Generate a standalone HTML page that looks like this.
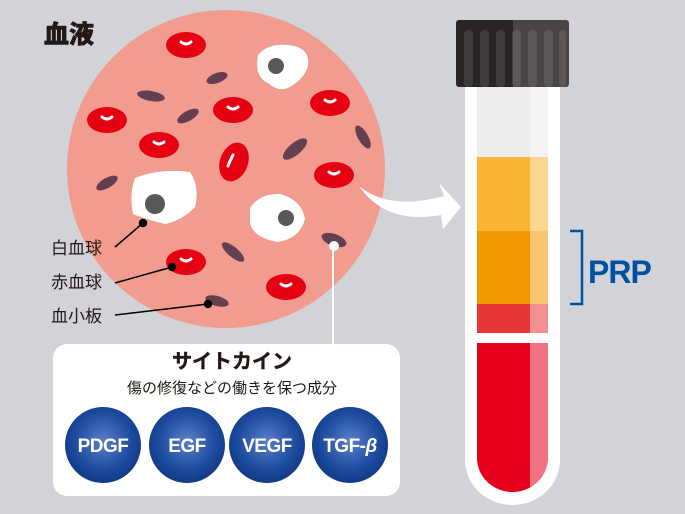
<!DOCTYPE html><html><head><meta charset="utf-8"><style>
body{margin:0;width:685px;height:514px;background:#d2d3d8;overflow:hidden;font-family:"Liberation Sans","Noto Sans CJK JP",sans-serif}
</style></head><body>
<svg width="685" height="514" viewBox="0 0 685 514" xmlns="http://www.w3.org/2000/svg" style="position:absolute;left:0;top:0">
<defs>
<radialGradient id="g" cx="0.5" cy="0.45" r="0.55"><stop offset="0" stop-color="#5a7fc8"/><stop offset="0.7" stop-color="#1c4a9e"/><stop offset="1" stop-color="#123a86"/></radialGradient>
</defs>
<text x="44" y="43" font-size="25" font-weight="900" fill="#231815" stroke="#231815" stroke-width="0.6" font-family="Liberation Sans,Noto Sans CJK JP,sans-serif">血液</text>
<circle cx="226" cy="169" r="159" fill="#f19c8e"/>
<g fill="#643f4f">
<ellipse cx="151" cy="96" rx="14" ry="5" transform="rotate(10 151 96)"/>
<ellipse cx="217" cy="78" rx="11" ry="5" transform="rotate(-20 217 78)"/>
<ellipse cx="188" cy="116" rx="12" ry="5" transform="rotate(-30 188 116)"/>
<ellipse cx="295" cy="149" rx="15" ry="6" transform="rotate(-40 295 149)"/>
<ellipse cx="363" cy="137" rx="13" ry="5" transform="rotate(60 363 137)"/>
<ellipse cx="107" cy="183" rx="12" ry="5" transform="rotate(-30 107 183)"/>
<ellipse cx="233" cy="252" rx="14" ry="5" transform="rotate(40 233 252)"/>
<ellipse cx="334" cy="240" rx="13" ry="6" transform="rotate(20 334 240)"/>
<ellipse cx="217" cy="301" rx="12" ry="5" transform="rotate(15 217 301)"/>
</g>
<g fill="#e50012">
<ellipse cx="186" cy="45" rx="20" ry="13"/>
<ellipse cx="330" cy="103" rx="20" ry="13"/>
<ellipse cx="233" cy="110" rx="20" ry="13"/>
<ellipse cx="107" cy="120" rx="20" ry="13"/>
<ellipse cx="159" cy="145" rx="20" ry="13"/>
<ellipse cx="234" cy="162" rx="20" ry="14" transform="rotate(-70 234 162)"/>
<ellipse cx="334" cy="175" rx="20" ry="13"/>
<ellipse cx="186" cy="262" rx="20" ry="13"/>
<ellipse cx="286" cy="287" rx="20" ry="13"/>
</g>
<g fill="none" stroke="#fff" stroke-width="3" stroke-linecap="round">
<path d="M181 42 q5 4 10 0"/><path d="M325 100 q5 4 10 0"/><path d="M228 107 q5 4 10 0"/><path d="M102 117 q5 4 10 0"/><path d="M154 142 q5 4 10 0"/><path d="M233 155 q-4 8 -5 11"/><path d="M329 172 q5 4 10 0"/><path d="M181 259 q5 4 10 0"/><path d="M281 284 q5 4 10 0"/>
</g>
<g fill="#fff">
<path d="M258 55 q10 -12 30 -10 q22 2 20 20 q-3 14 -20 23 q-10 4 -20 -5 q-14 -6 -10 -28z"/>
<path d="M135 178 q25 -10 55 -6 q10 15 5 35 q-12 13 -30 17 q-20 -5 -32 -10 q-4 -20 2 -36z"/>
<path d="M250 208 q10 -15 30 -14 q22 6 25 25 q-5 20 -28 23 q-25 -5 -27 -20z"/>
</g>
<g fill="#595757"><circle cx="276" cy="66" r="8"/><circle cx="155" cy="204" r="10"/><circle cx="286" cy="218" r="8"/></g>
<path d="M359 186 q30 25 85 10 l-5 -13 l22 24 l-18 22 l-2 -14 q-55 10 -82 -29z" fill="#fff"/>
<line x1="333" y1="245" x2="333" y2="346" stroke="#fff" stroke-width="2"/>
<circle cx="334" cy="246" r="5" fill="#fff"/>
<g stroke="#000" stroke-width="1.5" fill="#000">
<line x1="115" y1="247" x2="143" y2="223"/><circle cx="143" cy="223" r="3.5"/>
<line x1="115" y1="283" x2="172" y2="267"/><circle cx="172" cy="267" r="3.5"/>
<line x1="115" y1="315" x2="208" y2="304"/><circle cx="208" cy="304" r="3.5"/>
</g>
<g font-size="17" fill="#231815" font-family="Liberation Sans,Noto Sans CJK JP,sans-serif">
<text x="51" y="254">白血球</text><text x="51" y="288">赤血球</text><text x="51" y="322">血小板</text>
</g>
<rect x="53" y="344" width="347" height="152" rx="14" fill="#fff"/>
<text x="232" y="368" text-anchor="middle" font-size="20" font-weight="bold" fill="#231815" stroke="#231815" stroke-width="0.4" font-family="Liberation Sans,Noto Sans CJK JP,sans-serif">サイトカイン</text>
<text x="232" y="393" text-anchor="middle" font-size="15" fill="#231815" font-family="Liberation Sans,Noto Sans CJK JP,sans-serif">傷の修復などの働きを保つ成分</text>
<g fill="url(#g)"><circle cx="103" cy="445" r="38"/><circle cx="187" cy="445" r="38"/><circle cx="267" cy="445" r="38"/><circle cx="350" cy="445" r="38"/></g>
<g fill="#fff" font-size="19" font-weight="bold" text-anchor="middle" font-family="Liberation Sans,sans-serif" letter-spacing="-0.5">
<text x="103" y="452">PDGF</text><text x="187" y="452">EGF</text><text x="267" y="452">VEGF</text><text x="350" y="452">TGF-<tspan font-style="italic">β</tspan></text>
</g>
<path d="M465 85 V460 a47.5 45 0 0 0 95 0 V85z" fill="#fff"/>
<rect x="477" y="87" width="71" height="70" fill="#ececec"/>
<rect x="477" y="157" width="71" height="74" fill="#f7b533"/>
<rect x="477" y="231" width="71" height="73" fill="#f39800"/>
<rect x="477" y="304" width="71" height="29" fill="#e83636"/>
<path d="M477 343 H548 V458 a35.5 34 0 0 1 -71 0z" fill="#e5001c"/>
<rect x="530" y="87" width="18" height="246" fill="#fff" opacity="0.45"/>
<path d="M530 343 H548 V458 q0 25 -18 33z" fill="#fff" opacity="0.45"/>
<rect x="456" y="20" width="113" height="67" rx="3" fill="#2b2424"/>
<rect x="513" y="20" width="56" height="67" fill="#fff" opacity="0.15"/>
<g fill="#fff" opacity="0.1"><rect x="464" y="30" width="9" height="57" rx="4"/><rect x="480" y="30" width="9" height="57" rx="4"/><rect x="496" y="30" width="9" height="57" rx="4"/><rect x="512" y="30" width="9" height="57" rx="4"/><rect x="528" y="30" width="9" height="57" rx="4"/><rect x="544" y="30" width="9" height="57" rx="4"/><rect x="559" y="30" width="7" height="57" rx="3"/></g>
<path d="M570 231 H582 V304 H570" fill="none" stroke="#0050a0" stroke-width="2.5"/>
<text x="588" y="283" font-size="32" font-weight="bold" fill="#0050a0" letter-spacing="-1" font-family="Liberation Sans,sans-serif">PRP</text>
</svg>
</body></html>
